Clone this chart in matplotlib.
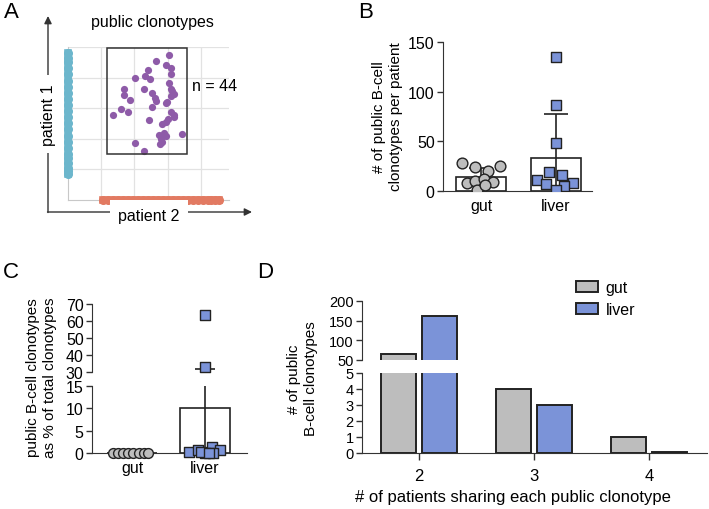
import numpy as np
import matplotlib
matplotlib.use('Agg')
import matplotlib.pyplot as plt
from matplotlib.patches import Rectangle, Patch

plt.rcParams['font.family'] = ['Liberation Sans', 'DejaVu Sans']
plt.rcParams['font.size'] = 11

################################
# A: public clonotypes (grid units)
pub_x = [3.04, 2.64, 2.96, 3.09, 2.41, 3.09, 2.03, 2.33, 2.46, 3.04, 3.09,
         3.14, 1.68, 2.30, 2.54, 3.19, 3.09, 1.68, 2.62, 1.88, 2.66, 2.94,
         2.99, 2.54, 1.60, 1.37, 1.81, 3.09, 3.19, 3.19, 2.43, 3.02, 2.94,
         2.84, 3.44, 2.74, 2.84, 2.94, 2.79, 2.82, 2.77, 2.03, 2.30, 2.89]
pub_y = [4.75, 4.53, 4.42, 4.32, 4.24, 4.11, 4.00, 4.04, 3.96, 3.83, 3.64,
         3.55, 3.64, 3.61, 3.48, 3.45, 3.41, 3.42, 3.32, 3.28, 3.23, 3.17,
         3.21, 3.02, 2.96, 2.77, 2.86, 2.88, 2.77, 2.72, 2.61, 2.63, 2.55,
         2.47, 2.14, 2.12, 2.09, 2.07, 1.98, 1.90, 1.83, 1.85, 1.61, 2.17]
p1_only_y = [0.84, 0.95, 1.05, 1.2, 1.35, 1.5, 1.7, 1.9, 2.1, 2.3, 2.5, 2.7,
             2.9, 3.1, 3.3, 3.5, 3.7, 3.9, 4.1, 4.3, 4.5, 4.65, 4.8]
p2_only_x = [1.05, 1.2, 1.35, 1.5, 1.65, 1.8, 1.95, 2.1, 2.25, 2.4, 2.55, 2.7,
             2.85, 3.0, 3.15, 3.3, 3.45, 3.6, 3.75, 3.9, 4.05, 4.2, 4.3, 4.43, 4.55]
box_x = [1.17, 3.59]
box_y = [1.50, 4.97]
n_public = 44

# B: public clonotypes per patient
b_gut = [28, 24, 25.5, 20, 8.5, 10, 12, 9, 1, 6.5]
b_gut_x = [-0.25, -0.08, 0.25, 0.09, -0.19, -0.08, 0.04, 0.16, -0.05, 0.05]
b_liver = [134.5, 86.6, 48.2, 19.2, 16.2, 11.1, 7.4, 8.1, 4.7, 1.0]
b_liver_x = [0, 0, 0, -0.09, 0.08, -0.25, -0.13, 0.23, 0.11, 0]

# C: % of total clonotypes
c_gut = [0, 0, 0, 0, 0, 0, 0, 0]
c_gut_x = [-0.26, -0.19, -0.12, -0.05, 0.02, 0.09, 0.16, 0.22]
c_liver = [63.8, 32.9, 0.3, 0.7, 1.3, 0.6, 0.1, 0.05, 0.2, 0.0]
c_liver_x = [0.0, 0.0, -0.22, -0.1, 0.1, 0.2, 0.0, 0.11, -0.05, 0.05]

# D: sharing
d_sharing = [2, 3, 4]
d_gut = [66, 4, 1]
d_liver = [163, 3, 0.08]

groups = ['gut', 'liver']
################################

GRAY = '#bdbdbd'
BLUE = '#7b93d8'
DARK = '#222222'
W, H = 709, 510

fig = plt.figure(figsize=(W / 100, H / 100), dpi=100)


def box(l, t, r, b):
    return [l / W, 1 - b / H, (r - l) / W, (b - t) / H]


def style(ax, bottom=True, size=11.5):
    for s in ['top', 'right']:
        ax.spines[s].set_visible(False)
    ax.spines['left'].set_color('#333333')
    ax.spines['bottom'].set_color('#333333')
    ax.spines['bottom'].set_visible(bottom)
    ax.tick_params(direction='out', length=4, width=1, color='#333333',
                   labelsize=size, pad=2)


# ---------------- A ----------------
axA = fig.add_axes(box(67.7, 48, 229, 200.7))
axA.set_xlim(0, 4.84)
axA.set_ylim(0, 5.0)
axA.set_xticks([1, 2, 3, 4])
axA.set_yticks([1, 2, 3, 4, 5])
axA.grid(True, color='#e2e2e2', lw=0.9)
axA.tick_params(length=0, labelbottom=False, labelleft=False)
for s in ['top', 'right']:
    axA.spines[s].set_visible(False)
for s in ['left', 'bottom']:
    axA.spines[s].set_color('#c8c8c8')
axA.plot(np.zeros(len(p1_only_y)), p1_only_y, '-o', color='#6cb6cc', ms=5.5,
         lw=5.5, clip_on=False, zorder=3)
axA.plot(p2_only_x, np.zeros(len(p2_only_x)), '-o', color='#e27a62', ms=5.5,
         lw=5.5, clip_on=False, zorder=3)
axA.scatter(pub_x, pub_y, s=27, color='#8e5ba8', zorder=4, linewidths=0)
axA.add_patch(Rectangle((box_x[0], box_y[0]), box_x[1] - box_x[0],
                        box_y[1] - box_y[0], fill=False, ec='#333333', lw=1.1, zorder=5))
axA.text(3.73, 3.73, 'n = %d' % n_public, va='center', ha='left', fontsize=11.5)

# ---------------- B ----------------
axB = fig.add_axes(box(443, 43, 592, 192))
style(axB)
b_means = [np.mean(b_gut), np.mean(b_liver)]
b_sd = [np.std(b_gut, ddof=1), np.std(b_liver, ddof=1)]
axB.bar([0, 1], b_means, width=0.667, color='white', edgecolor=DARK, lw=1.2, zorder=1)
axB.errorbar([0, 1], b_means, yerr=b_sd, fmt='none', ecolor=DARK, elinewidth=1.2,
             capsize=8.5, capthick=1.2, zorder=2)
axB.scatter(b_gut_x, b_gut, marker='o', s=60, color=GRAY, edgecolor=DARK, lw=1, zorder=3)
axB.scatter(1 + np.array(b_liver_x), b_liver, marker='s', s=50, color=BLUE,
            edgecolor=DARK, lw=1, zorder=3)
axB.set_xlim(-0.507, 1.48)
axB.set_ylim(0, 150)
axB.set_yticks([0, 50, 100, 150])
axB.set_xticks([0, 1])
axB.set_xticklabels(groups)
axB.tick_params(axis='x', length=0, pad=5)

# ---------------- C ----------------
c_means = [np.mean(c_gut), np.mean(c_liver)]
c_sd = [np.std(c_gut, ddof=1), np.std(c_liver, ddof=1)]
c_gut_arr = np.array(c_gut)
c_liv_arr = np.array(c_liver)
c_liv_x = 1 + np.array(c_liver_x)

axC2 = fig.add_axes(box(92, 305, 247, 373))
axC1 = fig.add_axes(box(92, 387, 247, 454))
for ax, lo, hi, ticks in [(axC1, 0, 15, [0, 5, 10, 15]), (axC2, 30, 70, [30, 40, 50, 60, 70])]:
    style(ax, bottom=(ax is axC1))
    ax.bar([0, 1], c_means, width=0.685, color='white', edgecolor=DARK, lw=1.2, zorder=1)
    ax.errorbar([1], [c_means[1]], yerr=[c_sd[1]], fmt='none', ecolor=DARK,
                elinewidth=1.2, capsize=7.5, capthick=1.2, zorder=2)
    m = (c_liv_arr >= lo - 3) & (c_liv_arr <= hi + 3)
    ax.scatter(c_liv_x[m], c_liv_arr[m], marker='s', s=46, color=BLUE,
               edgecolor=DARK, lw=1, zorder=3, clip_on=False)
    ax.set_xlim(-0.548, 1.575)
    ax.set_ylim(lo, hi)
    ax.set_yticks(ticks)
axC1.scatter(c_gut_x, c_gut_arr, marker='o', s=50, color=GRAY, edgecolor=DARK,
             lw=1, zorder=3, clip_on=False)
axC1.set_xticks([0, 1])
axC1.set_xticklabels(groups)
axC1.tick_params(axis='x', length=0, pad=5)
axC2.set_xticks([])

# ---------------- D ----------------
axD2 = fig.add_axes(box(362, 302, 707, 361))
axD1 = fig.add_axes(box(362, 374, 707, 454))
xs = np.array(d_sharing)
for ax, lo, hi, ticks in [(axD1, 0, 5, [0, 1, 2, 3, 4, 5]), (axD2, 50, 200, [50, 100, 150, 200])]:
    style(ax, bottom=(ax is axD1), size=10.5)
    ax.bar(xs - 0.18, d_gut, width=0.3, color=GRAY, edgecolor=DARK, lw=1.4)
    ax.bar(xs + 0.18, d_liver, width=0.3, color=BLUE, edgecolor=DARK, lw=1.4)
    ax.set_xlim(1.504, 4.504)
    ax.set_ylim(lo, hi)
    ax.set_yticks(ticks)
axD1.set_xticks(d_sharing)
axD1.tick_params(axis='x', length=5, pad=6, labelsize=12)
axD2.set_xticks([])
fig.legend(handles=[Patch(facecolor=GRAY, edgecolor=DARK, lw=1.4, label='gut'),
                    Patch(facecolor=BLUE, edgecolor=DARK, lw=1.4, label='liver')],
           loc='upper left', bbox_to_anchor=(576 / W, 1 - 281 / H), frameon=False,
           handlelength=1.4, handleheight=0.72, handletextpad=0.45,
           labelspacing=0.45, borderpad=0, borderaxespad=0, fontsize=11.5)

# ---------------- labels / arrows ----------------
ov = fig.add_axes([0, 0, 1, 1], zorder=10)
ov.set_xlim(0, W)
ov.set_ylim(H, 0)
ov.axis('off')
arrow = dict(arrowstyle='-|>', color='#333333', lw=1, mutation_scale=11, shrinkA=0, shrinkB=0)
ov.annotate('', xy=(48, 17), xytext=(48, 213.5), arrowprops=arrow)
ov.annotate('', xy=(252, 213), xytext=(47.5, 213), arrowprops=arrow)
wb = dict(facecolor='white', edgecolor='none', pad=6)
ov.text(48, 115, 'patient 1', rotation=90, ha='center', va='center', fontsize=11.5, bbox=wb)
ov.text(149, 217, 'patient 2', ha='center', va='center', fontsize=11.5, bbox=wb)

fig.text(152 / W, 1 - 22 / H, 'public clonotypes', ha='center', va='center', fontsize=11.5)
fig.text(387.5 / W, 1 - 117 / H, '# of public B-cell\nclonotypes per patient',
         rotation=90, ha='center', va='center', fontsize=11, linespacing=1.2)
fig.text(41.5 / W, 1 - 378 / H, 'public B-cell clonotypes\nas % of total clonotypes',
         rotation=90, ha='center', va='center', fontsize=11, linespacing=1.2)
fig.text(302.5 / W, 1 - 379 / H, '# of public\nB-cell clonotypes',
         rotation=90, ha='center', va='center', fontsize=11, linespacing=1.2)
fig.text(513 / W, 1 - 498 / H, '# of patients sharing each public clonotype',
         ha='center', va='center', fontsize=12)

for lab, x, y in [('A', 11, 13), ('B', 366, 12), ('C', 11, 273), ('D', 265, 273)]:
    fig.text(x / W, 1 - y / H, lab, ha='center', va='center', fontsize=16)

fig.savefig('out.png', dpi=100)
